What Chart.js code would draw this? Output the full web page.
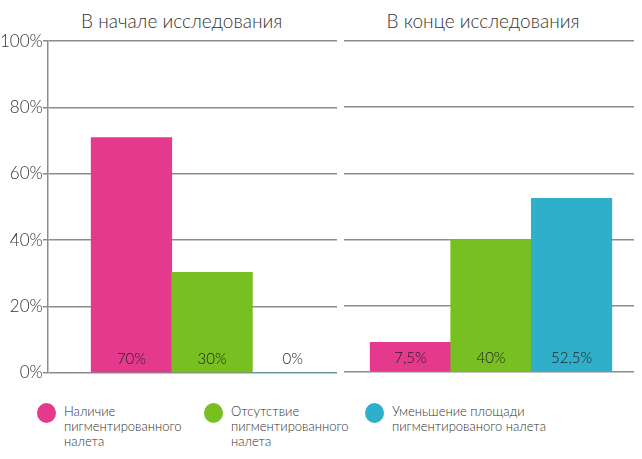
<!DOCTYPE html>
<html>
<head>
<meta charset="utf-8">
<script src="https://cdn.jsdelivr.net/npm/chart.js@4/dist/chart.umd.min.js"></script>
<style>
    body { margin: 0; width: 642px; height: 459px; background: #fff; overflow: hidden; font-family: Lato, sans-serif; }
    #wrap { position: relative; width: 642px; height: 459px; }
    #chart-start-box { position: absolute; left: 0; top: 31px; width: 337px; height: 352px; }
    #chart-end-box { position: absolute; left: 344px; top: 31px; width: 290px; height: 351px; }
    .chart-title { position: absolute; top: 9px; font-size: 19px; font-weight: 300; color: #333; text-align: center; white-space: nowrap; }
    .legend-item { position: absolute; top: 404px; display: flex; align-items: flex-start; }
    .legend-dot { width: 19px; height: 20px; border-radius: 50%; margin-top: -1px; margin-right: 8px; flex: none; }
    .legend-text { font-size: 13px; line-height: 15px; color: #333; font-weight: 300; }
</style>
</head>
<body>
<div id="wrap">
    <div class="chart-title" id="title-start" style="left:81px;width:200px"></div>
    <div class="chart-title" id="title-end" style="left:383px;width:200px"></div>
    <div id="chart-start-box"><canvas id="chart-start"></canvas></div>
    <div id="chart-end-box"><canvas id="chart-end"></canvas></div>
    <div id="legend"></div>
</div>
<script>
// Data
const groups = ['В начале исследования', 'В конце исследования'];
const series = ['Наличие<br>пигментированного<br>налета', 'Отсутствие<br>пигментированного<br>налета', 'Уменьшение площади<br>пигментированого налета'];
const colors = ['#e5398d', '#78c021', '#30afcb'];
const start_values = [70.9, 30.3, 0];
const end_values = [9, 40, 52.5];
const start_labels = ['70%', '30%', '0%'];
const end_labels = ['7,5%', '40%', '52,5%'];
const y_ticks = [0, 20, 40, 60, 80, 100];

const font_family = 'Lato, sans-serif';

// Draws the text label near the bottom of each bar
const barLabels = {
    id: 'barLabels',
    afterDatasetsDraw(chart, args, opts) {
        const ctx = chart.ctx;
        const meta = chart.getDatasetMeta(0);
        const base = chart.scales.y.getPixelForValue(0);
        ctx.save();
        ctx.font = '300 15px ' + font_family;
        ctx.fillStyle = '#222';
        ctx.textAlign = 'center';
        ctx.textBaseline = 'middle';
        meta.data.forEach((bar, i) => {
            ctx.fillText(opts.texts[i], bar.x, base - 14);
        });
        ctx.restore();
    }
};

function MakeChart(id, values, texts, showAxis, xmin, xmax, padding) {
    return new Chart(document.getElementById(id), {
        type: 'bar',
        data: {
            datasets: [{
                data: values.map((v, i) => ({ x: i + 1, y: v })),
                backgroundColor: colors,
                borderSkipped: 'bottom',
                barThickness: 'flex',
                barPercentage: 1,
                categoryPercentage: 1
            }]
        },
        options: {
            responsive: true,
            maintainAspectRatio: false,
            animation: false,
            layout: { padding: padding },
            plugins: {
                legend: { display: false },
                tooltip: { enabled: false },
                barLabels: { texts: texts }
            },
            scales: {
                x: {
                    type: 'linear',
                    min: xmin,
                    max: xmax,
                    offset: false,
                    display: false
                },
                y: {
                    min: 0,
                    max: 100,
                    afterBuildTicks: axis => { axis.ticks = y_ticks.map(v => ({ value: v })); },
                    border: { display: showAxis, color: '#8c8c8c', width: 1.5 },
                    grid: { color: '#8c8c8c', lineWidth: 1.5, drawTicks: showAxis, tickLength: 5 },
                    ticks: {
                        display: showAxis,
                        color: '#333',
                        padding: 0,
                        font: { family: font_family, size: 17, weight: '300' },
                        callback: v => v + '%'
                    }
                }
            }
        },
        plugins: [barLabels]
    });
}

document.addEventListener('DOMContentLoaded', function() {
    document.getElementById('title-start').textContent = groups[0];
    document.getElementById('title-end').textContent = groups[1];

    MakeChart('chart-start', start_values, start_labels, true, -0.0375, 3.55, 0);
    MakeChart('chart-end', end_values, end_labels, false, 0.175, 3.775, { top: 10, bottom: 10 });

    const legend = document.getElementById('legend');
    const lefts = [37, 204, 365];
    for (let i = 0; i < series.length; i++) {
        const item = document.createElement('div');
        item.className = 'legend-item';
        item.style.left = lefts[i] + 'px';
        const dot = document.createElement('div');
        dot.className = 'legend-dot';
        dot.style.background = colors[i];
        const text = document.createElement('div');
        text.className = 'legend-text';
        text.innerHTML = series[i];
        item.appendChild(dot);
        item.appendChild(text);
        legend.appendChild(item);
    }
});
</script>
</body>
</html>
